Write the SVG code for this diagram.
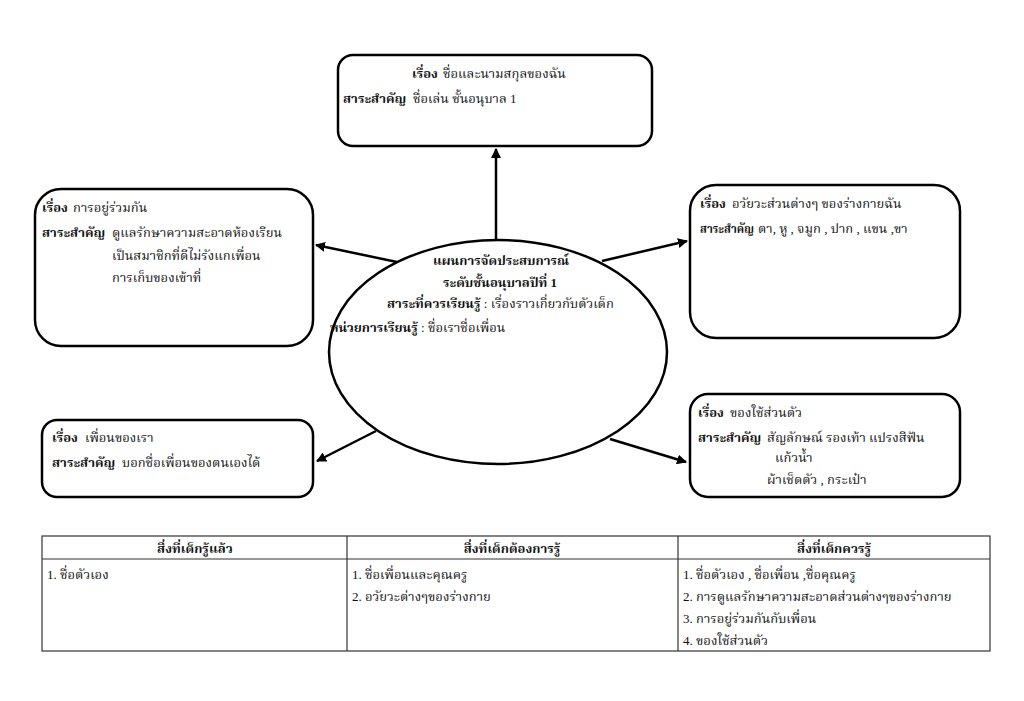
<svg xmlns="http://www.w3.org/2000/svg" width="1024" height="701" viewBox="0 0 1024 701">
<defs>
<style>
.box{fill:#fff;stroke:#000;stroke-width:2.5}
.ell{fill:#fff;stroke:#000;stroke-width:2.5}
.con{stroke:#000;stroke-width:2.5;fill:none;marker-end:url(#ah)}
.tbl{stroke:#333;stroke-width:1.2;fill:none}
text{font-family:"Liberation Serif","Noto Serif Thai","Noto Sans Thai","Loma","Garuda",serif;font-size:13px;fill:#111}
.b{font-weight:bold}
.c{text-anchor:middle}
</style>
<marker id="ah" viewBox="0 0 10 10" refX="9" refY="5" markerWidth="4" markerHeight="4" orient="auto" markerUnits="strokeWidth">
<path d="M0,0 L10,5 L0,10 z" fill="#000"/>
</marker>
</defs>
<rect width="1024" height="701" fill="#fff"/>
<g id="connectors">
<line class="con" x1="496" y1="240" x2="496" y2="149"/>
<line class="con" x1="397" y1="262" x2="316" y2="245"/>
<line class="con" x1="602" y1="261" x2="687" y2="241"/>
<line class="con" x1="376" y1="431" x2="317" y2="461"/>
<line class="con" x1="610" y1="439" x2="686" y2="462"/>
</g>
<g id="center">
<ellipse class="ell" cx="498" cy="352" rx="169" ry="112"/>
<text class="b c" x="501" y="265">แผนการจัดประสบการณ์</text>
<text class="b c" x="500" y="287">ระดับชั้นอนุบาลปีที่ 1</text>
<text x="387" y="308"><tspan class="b">สาระที่ควรเรียนรู้</tspan> : เรื่องราวเกี่ยวกับตัวเด็ก</text>
<text x="330" y="332"><tspan class="b">หน่วยการเรียนรู้</tspan> : ชื่อเราชื่อเพื่อน</text>
</g>
<g id="top-box">
<rect class="box" x="338" y="55" width="314" height="91" rx="15"/>
<text class="b" x="412" y="78">เรื่อง</text>
<text x="443" y="78">ชื่อและนามสกุลของฉัน</text>
<text class="b" x="343" y="103">สาระสำคัญ</text>
<text x="413" y="103">ชื่อเล่น ชั้นอนุบาล 1</text>
</g>
<g id="left-box">
<rect class="box" x="35" y="189" width="278" height="157" rx="26"/>
<text class="b" x="42" y="212">เรื่อง</text>
<text x="73" y="212">การอยู่ร่วมกัน</text>
<text class="b" x="42" y="237">สาระสำคัญ</text>
<text x="112" y="237">ดูแลรักษาความสะอาดห้องเรียน</text>
<text x="112" y="260">เป็นสมาชิกที่ดีไม่รังแกเพื่อน</text>
<text x="112" y="282">การเก็บของเข้าที่</text>
</g>
<g id="right-box">
<rect class="box" x="690" y="185" width="270" height="153" rx="26"/>
<text class="b" x="700" y="208">เรื่อง</text>
<text x="732" y="208">อวัยวะส่วนต่างๆ ของร่างกายฉัน</text>
<text class="b" x="700" y="233" textLength="54" lengthAdjust="spacingAndGlyphs">สาระสำคัญ</text>
<text x="758" y="233">ตา, หู , จมูก , ปาก , แขน ,ขา</text>
</g>
<g id="bottom-left-box">
<rect class="box" x="42" y="420" width="271" height="77" rx="15"/>
<text class="b" x="52" y="442">เรื่อง</text>
<text x="85" y="442">เพื่อนของเรา</text>
<text class="b" x="52" y="467">สาระสำคัญ</text>
<text x="122" y="467">บอกชื่อเพื่อนของตนเองได้</text>
</g>
<g id="bottom-right-box">
<rect class="box" x="690" y="394" width="270" height="103" rx="18"/>
<text class="b" x="698" y="417">เรื่อง</text>
<text x="730" y="417">ของใช้ส่วนตัว</text>
<text class="b" x="698" y="442">สาระสำคัญ</text>
<text x="767" y="442">สัญลักษณ์</text>
<text x="826" y="442">รองเท้า แปรงสีฟัน</text>
<text x="775" y="462">แก้วน้ำ</text>
<text x="767" y="484">ผ้าเช็ดตัว , กระเป๋า</text>
</g>
<g id="table">
<rect class="tbl" x="42" y="536" width="948" height="115"/>
<line class="tbl" x1="42" y1="559" x2="990" y2="559"/>
<line class="tbl" x1="347" y1="536" x2="347" y2="651"/>
<line class="tbl" x1="678" y1="536" x2="678" y2="651"/>
<text class="b c" x="195" y="553">สิ่งที่เด็กรู้แล้ว</text>
<text class="b c" x="512" y="553">สิ่งที่เด็กต้องการรู้</text>
<text class="b c" x="834" y="553">สิ่งที่เด็กควรรู้</text>
<text x="47" y="579">1. ชื่อตัวเอง</text>
<text x="352" y="579">1. ชื่อเพื่อนและคุณครู</text>
<text x="352" y="601">2. อวัยวะต่างๆของร่างกาย</text>
<text x="683" y="579">1. ชื่อตัวเอง , ชื่อเพื่อน ,ชื่อคุณครู</text>
<text x="683" y="601">2. การดูแลรักษาความสะอาดส่วนต่างๆของร่างกาย</text>
<text x="683" y="623">3. การอยู่ร่วมกันกับเพื่อน</text>
<text x="683" y="645">4. ของใช้ส่วนตัว</text>
</g>
</svg>
